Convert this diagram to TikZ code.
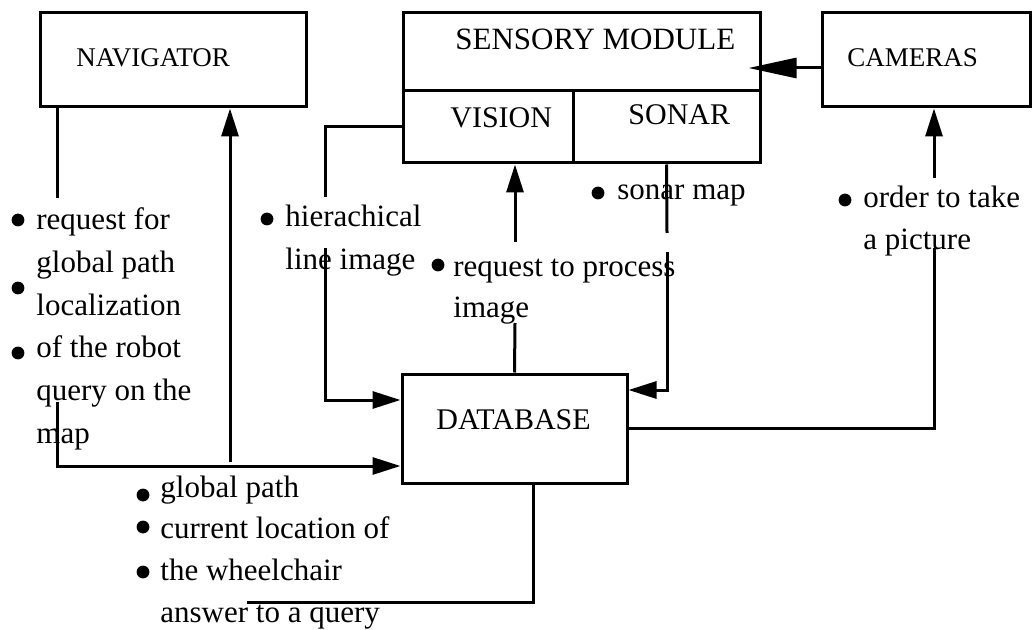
\documentclass[tikz,border=0pt]{standalone}
\usepackage{fontspec}
\setmainfont{Liberation Serif}
\usetikzlibrary{arrows.meta,calc,fit}

\tikzset{
  box/.style={draw,line width=1.5pt,inner sep=0pt},
  line/.style={line width=1.5pt},
  arr/.style={line width=1.5pt,-{Triangle[length=14pt,width=8.5pt]}},
  txt/.style={anchor=base west,inner sep=0pt,font=\fontsize{15.5}{18}\selectfont},
  dot/.style={circle,fill,inner sep=0pt,minimum size=6.4pt},
}

\begin{document}
\begin{tikzpicture}[x=0.5pt,y=-0.5pt]
  \useasboundingbox (0,0) rectangle (1032,630);

  % Boxes
  \node[box,fit={(40,13) (306,107)}] (nav) {};
  \node[box,fit={(403,13) (760,163)}] (sens) {};
  \node[box,fit={(403,91) (573,163)}] (vis) {};
  \node[box,fit={(573,91) (760,163)}] (son) {};
  \node[box,fit={(822,13) (1030,107)}] (cam) {};
  \node[box,fit={(402,374) (627,483)}] (db) {};

  % Box labels
  \node[txt,font=\fontsize{13.5}{16}\selectfont] (navl) at (76,67) {NAVIGATOR};
  \node[txt] (sensl) at (455,50) {SENSORY MODULE};
  \node[txt,font=\fontsize{15}{18}\selectfont] (visl) at (450,128) {VISION};
  \node[txt,font=\fontsize{15}{18}\selectfont] (sonl) at (628,125) {SONAR};
  \node[txt,font=\fontsize{13.5}{16}\selectfont] (caml) at (847,67) {CAMERAS};
  \node[txt,font=\fontsize{15}{18}\selectfont] (dbl) at (436,429) {DATABASE};

  % Messages
  \foreach \t [count=\i] in {request for,global path,localization,of the robot,query on the,map}
    \node[txt] (nt\i) at (36,{230+42.6*(\i-1)}) {\t};
  \node[txt] (hl1) at (285,227) {hierachical};
  \node[txt] (hl2) at (285,270) {line image};
  \node[txt] (rp1) at (453,277) {request to process};
  \node[txt] (rp2) at (453,318) {image};
  \node[txt] (sm) at (617,200) {sonar map};
  \node[txt] (op1) at (863,208) {order to take};
  \node[txt] (op2) at (863,250) {a picture};
  \foreach \t [count=\i] in {global path,current location of,the wheelchair,answer to a query}
    \node[txt] (dt\i) at (160,{497+41.7*(\i-1)}) {\t};

  % Bullets
  \foreach \p [count=\i] in {(18,220),(18,288),(18,353),(267,219),(598,193),
                             (845,200),(438,265),(143,495),(143,527),(143,572)}
    \node[dot] (b\i) at \p {};

  % Navigator -> database
  \draw[line] ($(nav.south west)+(19,0)$) -- ++(0,90);
  \coordinate (nq) at (57,402);
  \draw[arr] (nq) |- ($(db.west)+(0,37.5)$);

  % Database -> navigator
  \coordinate (gp) at (230,462);
  \draw[arr] (gp) -- (gp |- nav.south);

  % Database -> answer
  \coordinate (aq) at (247,602);
  \draw[line] ($(db.south)+(18.5,0)$) |- (aq);

  % Vision -> database
  \coordinate (h1) at (325,197);
  \coordinate (h2) at (325,248);
  \draw[line] (vis.west) -| (h1);
  \draw[arr] (h2) |- ($(db.west)+(0,-28.5)$);

  % Database -> vision
  \coordinate (r1) at (515,323);
  \coordinate (r2) at (515,242);
  \draw[line] (db.north) -- (r1);
  \draw[arr] (r2) -- (r2 |- vis.south);

  % Sonar -> database
  \coordinate (s1) at (667,233);
  \coordinate (s2) at (667,252);
  \draw[line] (son.south) -- (s1);
  \draw[arr] (s2) |- ($(db.east)+(0,-38.5)$);

  % Database -> cameras
  \coordinate (c1) at (934,248);
  \coordinate (c2) at (934,178);
  \draw[line] (db.east) -| (c1);
  \draw[arr] (c2) -- (c2 |- cam.south);

  % Cameras -> sensory module
  \draw[line width=1.5pt,-{Triangle[length=24pt,width=10pt]}] ($(cam.west)+(0,8)$) -- ++(-72,0);
\end{tikzpicture}
\end{document}
